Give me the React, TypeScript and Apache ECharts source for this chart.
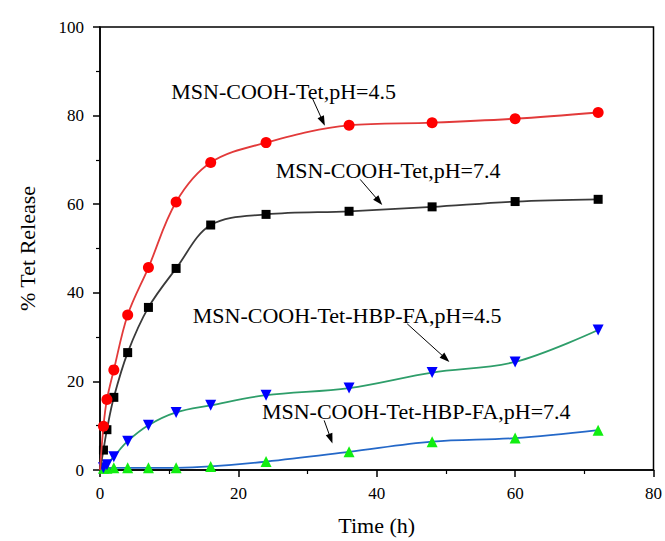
import React, { useEffect, useRef } from "react";
import * as echarts from "echarts";

// Sampling times (h)
const times = [0, 0.5, 1, 2, 4, 7, 11, 16, 24, 36, 48, 60, 72];

// % Tet release
const tetPH45 = [0, 9.9, 15.9, 22.6, 35.0, 45.7, 60.5, 69.4, 73.9, 77.8, 78.4, 79.3, 80.7];
const tetPH74 = [0, 4.5, 9.1, 16.4, 26.5, 36.7, 45.5, 55.3, 57.7, 58.4, 59.4, 60.6, 61.1];
const hbpPH45 = [0, 0.5, 1.2, 3.0, 6.5, 10.1, 13.0, 14.6, 16.9, 18.5, 22.0, 24.4, 31.6];
const hbpPH74 = [0, 0.4, 0.4, 0.5, 0.5, 0.5, 0.5, 0.8, 1.9, 4.1, 6.4, 7.2, 9.0];

const xTicks = [0, 20, 40, 60, 80];
const yTicks = [0, 20, 40, 60, 80, 100];

// Annotation labels (data coordinates)
const annotations = [
  { text: "MSN-COOH-Tet,pH=4.5", tx: 10.3, ty: 85.5, ax1: 30.7, ay1: 83.9, ax2: 32.5, ay2: 77.7 },
  { text: "MSN-COOH-Tet,pH=7.4", tx: 25.4, ty: 67.6, ax1: 37.6, ay1: 65.6, ax2: 40.8, ay2: 59.8 },
  { text: "MSN-COOH-Tet-HBP-FA,pH=4.5", tx: 13.4, ty: 34.8, ax1: 44.4, ay1: 33.0, ax2: 50.5, ay2: 24.4 },
  { text: "MSN-COOH-Tet-HBP-FA,pH=7.4", tx: 23.4, ty: 13.1, ax1: 32.4, ay1: 11.2, ax2: 33.6, ay2: 6.0 },
];

const FONT = "Liberation Serif";

function pairs(vals: number[]) {
  return times.map((t, i) =>
    i === 0 ? { value: [t, vals[i]], symbol: "none" } : { value: [t, vals[i]] }
  );
}

export default function App() {
  const ref = useRef<HTMLDivElement>(null);
  useEffect(() => {
    if (!ref.current) return;
    const chart = echarts.init(ref.current, null, { renderer: "svg" });
    const axisCommon = {
      axisLine: { show: true, lineStyle: { color: "#000", width: 1.5 } },
      axisTick: { show: true, inside: false, length: 7, lineStyle: { color: "#000", width: 1.5 } },
      minorTick: { show: true, splitNumber: 2, length: 4, lineStyle: { color: "#000", width: 1.2 } },
      splitLine: { show: false },
      axisLabel: { color: "#000", fontFamily: FONT, fontSize: 17, fontWeight: "normal" },
      nameTextStyle: { color: "#000", fontFamily: FONT, fontSize: 22, fontWeight: "normal" },
    };
    const lineCommon = {
      type: "line",
      smooth: 0.35,
      clip: false,
    };
    const option: any = {
      animation: false,
      backgroundColor: "#fff",
      textStyle: { fontFamily: FONT },
      grid: {
        left: 100,
        right: 11,
        top: 27,
        bottom: 69,
        show: true,
        borderColor: "#000",
        borderWidth: 1.5,
        backgroundColor: "transparent",
      },
      xAxis: {
        type: "value",
        min: xTicks[0],
        max: xTicks[xTicks.length - 1],
        interval: 20,
        name: "Time (h)",
        nameLocation: "middle",
        nameGap: 44,
        ...axisCommon,
        axisLabel: { ...axisCommon.axisLabel, margin: 15 },
      },
      yAxis: {
        type: "value",
        min: yTicks[0],
        max: yTicks[yTicks.length - 1],
        interval: 20,
        name: "% Tet Release",
        nameLocation: "middle",
        nameGap: 62,
        ...axisCommon,
        axisLabel: { ...axisCommon.axisLabel, margin: 16 },
      },
      series: [
        {
          ...lineCommon,
          name: "MSN-COOH-Tet,pH=4.5",
          data: pairs(tetPH45),
          symbol: "circle",
          symbolSize: 11,
          lineStyle: { color: "#e23a3a", width: 1.8 },
          itemStyle: { color: "#ff0000" },
          z: 5,
        },
        {
          ...lineCommon,
          name: "MSN-COOH-Tet,pH=7.4",
          data: pairs(tetPH74),
          symbol: "rect",
          symbolSize: 9,
          lineStyle: { color: "#3a3a3a", width: 1.8 },
          itemStyle: { color: "#000000" },
          z: 4,
        },
        {
          ...lineCommon,
          name: "MSN-COOH-Tet-HBP-FA,pH=4.5",
          data: pairs(hbpPH45),
          symbol: "triangle",
          symbolRotate: 180,
          symbolSize: 11,
          lineStyle: { color: "#2e9e6a", width: 1.8 },
          itemStyle: { color: "#0000ff" },
          z: 3,
        },
        {
          ...lineCommon,
          name: "MSN-COOH-Tet-HBP-FA,pH=7.4",
          data: pairs(hbpPH74),
          symbol: "triangle",
          symbolSize: 11,
          lineStyle: { color: "#2468c8", width: 1.8 },
          itemStyle: { color: "#11ee11" },
          z: 2,
        },
      ],
    };
    chart.setOption(option);

    const elements: any[] = [];
    annotations.forEach((a) => {
      const tp = chart.convertToPixel({ gridIndex: 0 }, [a.tx, a.ty]) as number[];
      const p1 = chart.convertToPixel({ gridIndex: 0 }, [a.ax1, a.ay1]) as number[];
      const p2 = chart.convertToPixel({ gridIndex: 0 }, [a.ax2, a.ay2]) as number[];
      elements.push({
        type: "text",
        x: tp[0],
        y: tp[1],
        z: 10,
        style: {
          text: a.text,
          fill: "#000",
          fontSize: 22,
          fontFamily: FONT,
          align: "left",
          verticalAlign: "middle",
        },
      });
      const dx = p2[0] - p1[0];
      const dy = p2[1] - p1[1];
      const len = Math.sqrt(dx * dx + dy * dy);
      const ux = dx / len;
      const uy = dy / len;
      const nx = -uy;
      const ny = ux;
      const L = 10;
      const W = 3.5;
      const bx = p2[0] - ux * L;
      const by = p2[1] - uy * L;
      elements.push({
        type: "line",
        z: 10,
        shape: { x1: p1[0], y1: p1[1], x2: bx + ux * 2, y2: by + uy * 2 },
        style: { stroke: "#000", lineWidth: 1 },
      });
      elements.push({
        type: "polygon",
        z: 10,
        shape: {
          points: [
            [p2[0], p2[1]],
            [bx + nx * W, by + ny * W],
            [bx - nx * W, by - ny * W],
          ],
        },
        style: { fill: "#000" },
      });
    });
    chart.setOption({ graphic: elements });

    return () => chart.dispose();
  }, []);
  return (
    <div
      ref={ref}
      style={{ position: "fixed", left: 0, top: 0, width: 665, height: 541 }}
    />
  );
}
